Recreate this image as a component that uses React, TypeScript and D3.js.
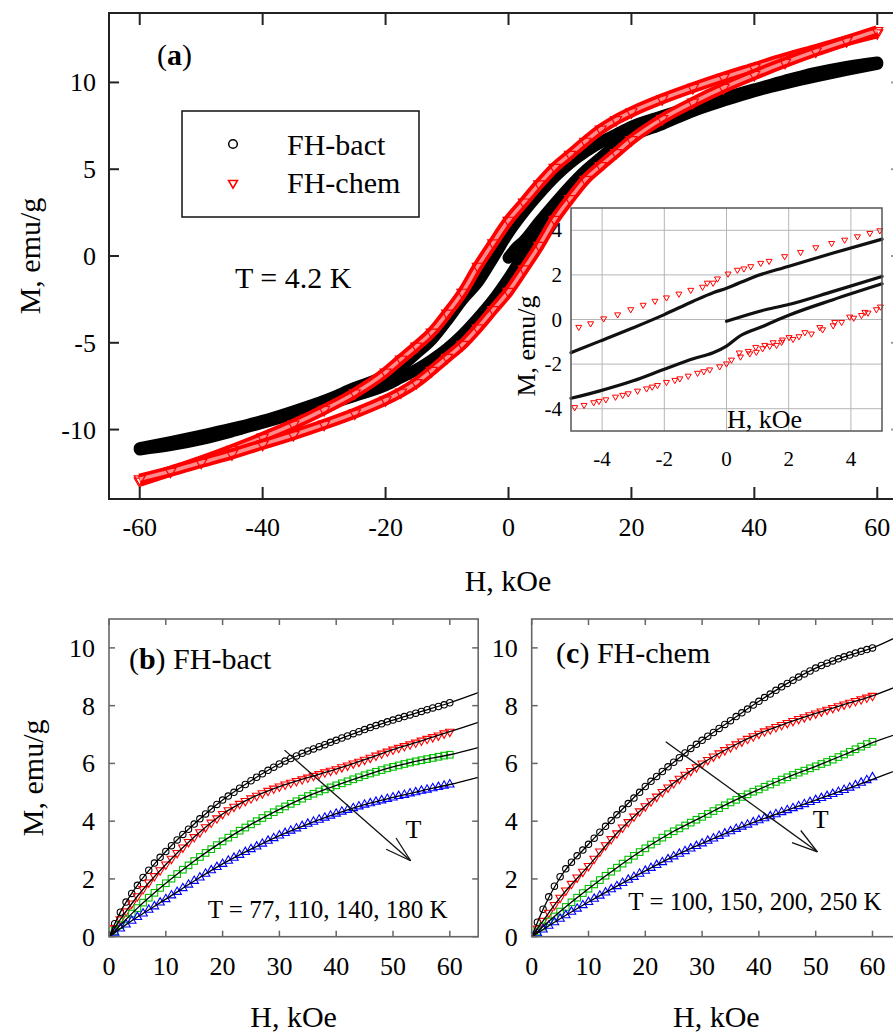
import React from "react";
import * as d3 from "d3";

const SERIF = '"Liberation Serif", "Times New Roman", Times, serif';

// ---------- panel (a): M(H) loops at 4.2 K ----------
const loopField = [-60, -55, -50, -45, -40, -35, -30, -25, -20, -17.5, -15, -12.5, -10, -7.5, -5, -2.5, 0, 2.5, 5, 7.5, 10, 12.5, 15, 17.5, 20, 25, 30, 35, 40, 45, 50, 55, 60];
const bactDown = [-11.07, -10.72, -10.35, -9.95, -9.5, -8.95, -8.35, -7.6, -6.9, -6.35, -5.6, -4.8, -3.7, -2.5, -1.5, -0.1, 1.35, 2.55, 3.6, 4.55, 5.35, 6.0, 6.55, 7.0, 7.45, 8.05, 8.6, 9.1, 9.6, 10.1, 10.55, 10.9, 11.15];
const bactUp = [-11.15, -10.9, -10.55, -10.1, -9.6, -9.1, -8.6, -8.05, -7.45, -7.0, -6.55, -6.0, -5.35, -4.55, -3.6, -2.55, -1.3, 0.1, 1.5, 2.5, 3.7, 4.8, 5.6, 6.35, 6.9, 7.6, 8.35, 8.95, 9.5, 9.95, 10.35, 10.72, 11.07];
const virginField = [0, 1.25, 2.5, 5, 7.5, 10, 12.5, 15, 17.5, 20];
const bactVirgin = [-0.1, 0.45, 0.85, 1.95, 3.0, 4.0, 4.9, 5.65, 6.4, 6.95];
const chemDown = [-12.98, -12.4, -11.8, -11.15, -10.45, -9.7, -8.85, -7.9, -6.7, -5.95, -5.2, -4.4, -3.3, -2.1, -0.6, 0.75, 2.05, 3.1, 4.15, 5.1, 5.85, 6.6, 7.3, 7.85, 8.3, 9.05, 9.7, 10.3, 10.85, 11.4, 11.9, 12.4, 12.85];
const chemUp = [-12.85, -12.4, -11.9, -11.4, -10.85, -10.3, -9.7, -9.05, -8.3, -7.85, -7.3, -6.6, -5.85, -5.1, -4.15, -3.1, -2.05, -0.75, 0.6, 2.1, 3.3, 4.4, 5.2, 5.95, 6.7, 7.9, 8.85, 9.7, 10.45, 11.15, 11.8, 12.4, 12.98];

const mainXTicks = [-60, -40, -20, 0, 20, 40, 60];
const mainYTicks = [-10, -5, 0, 5, 10];

// ---------- inset: low-field part ----------
const insetBactDown = [[-5, -1.49], [-4.07, -0.97], [-3.0, -0.37], [-2.0, 0.22], [-1.07, 0.82], [-0.43, 1.2], [0, 1.4], [0.86, 1.9], [1.98, 2.38], [3.43, 2.98], [5, 3.6]];
const insetBactUp = [[-5, -3.53], [-4.07, -3.2], [-3.0, -2.75], [-2.0, -2.23], [-1.07, -1.76], [-0.43, -1.49], [0, -1.19], [0.43, -0.74], [1.18, -0.3], [2.0, 0.19], [3.43, 0.89], [5, 1.6]];
const insetBactVirgin = [[0, -0.08], [1.28, 0.45], [2.0, 0.67], [3.43, 1.26], [5, 1.93]];
const insetChemField1 = [-4.75, -4.37, -3.95, -3.5, -3.08, -2.68, -2.3, -1.93, -1.53, -1.15, -0.77, -0.62, -0.43, -0.29, 0.05, 0.35, 0.56, 0.78, 1.1, 1.37, 1.87, 2.38, 2.87, 3.38, 3.8, 4.21, 4.61, 4.93];
const insetChemDown = [-0.34, -0.18, 0.04, 0.22, 0.45, 0.65, 0.83, 0.98, 1.15, 1.32, 1.46, 1.64, 1.64, 1.83, 2.05, 2.22, 2.28, 2.38, 2.53, 2.62, 2.83, 3.02, 3.23, 3.42, 3.57, 3.72, 3.87, 3.99];
const insetChemField2 = [-4.88, -4.58, -4.27, -4.1, -3.88, -3.57, -3.34, -3.16, -2.86, -2.57, -2.39, -2.22, -1.93, -1.66, -1.5, -1.23, -0.93, -0.73, -0.54, -0.22, 0, 0.16, 0.41, 0.45, 0.7, 0.75, 0.94, 0.96, 1.16, 1.23, 1.39, 1.5, 1.61, 1.77, 1.8, 2.01, 2.14, 2.33, 2.52, 2.73, 3.0, 3.09, 3.43, 3.48, 3.7, 3.96, 4.09, 4.34, 4.45, 4.55, 4.82, 4.95];
const insetChemUp = [-3.94, -3.84, -3.72, -3.66, -3.59, -3.47, -3.39, -3.32, -3.2, -3.1, -3.02, -2.95, -2.81, -2.72, -2.65, -2.53, -2.4, -2.33, -2.25, -2.11, -1.98, -1.81, -1.49, -1.67, -1.42, -1.53, -1.24, -1.46, -1.3, -1.15, -1.19, -1.03, -1.15, -1.01, -0.91, -0.8, -0.88, -0.76, -0.58, -0.64, -0.35, -0.45, -0.27, -0.12, -0.12, 0.12, 0.07, 0.19, 0.33, 0.3, 0.45, 0.57];
const insetTicks = [-4, -2, 0, 2, 4];

// ---------- panels (b), (c): virgin curves at higher T ----------
const fieldGrid = [0, 1, 2, 3, 4, 5, 6, 7, 8, 9, 10, 11, 12, 13, 14, 15, 16, 17, 18, 19, 20, 21, 22, 23, 24, 25, 26, 27, 28, 29, 30, 31, 32, 33, 34, 35, 36, 37, 38, 39, 40, 41, 42, 43, 44, 45, 46, 47, 48, 49, 50, 51, 52, 53, 54, 55, 56, 57, 58, 59, 60];
const bact77 = [0, 0.45, 0.85, 1.2, 1.5, 1.78, 2.05, 2.3, 2.55, 2.75, 2.95, 3.15, 3.35, 3.54, 3.72, 3.9, 4.08, 4.25, 4.42, 4.58, 4.73, 4.87, 5.0, 5.14, 5.27, 5.4, 5.52, 5.64, 5.76, 5.87, 5.98, 6.08, 6.17, 6.26, 6.35, 6.43, 6.5, 6.58, 6.65, 6.73, 6.8, 6.88, 6.95, 7.03, 7.1, 7.17, 7.24, 7.31, 7.37, 7.44, 7.5, 7.56, 7.62, 7.68, 7.74, 7.8, 7.86, 7.92, 7.97, 8.03, 8.1];
const bact110 = [0, 0.3, 0.6, 0.88, 1.15, 1.4, 1.65, 1.88, 2.1, 2.3, 2.5, 2.7, 2.9, 3.09, 3.28, 3.45, 3.62, 3.79, 3.95, 4.1, 4.25, 4.38, 4.5, 4.6, 4.7, 4.79, 4.88, 4.97, 5.05, 5.13, 5.2, 5.27, 5.33, 5.39, 5.45, 5.51, 5.57, 5.63, 5.69, 5.75, 5.8, 5.87, 5.93, 6.0, 6.06, 6.13, 6.2, 6.27, 6.34, 6.41, 6.48, 6.54, 6.6, 6.66, 6.72, 6.79, 6.85, 6.91, 6.97, 7.04, 7.1];
const bact140 = [0, 0.2, 0.4, 0.6, 0.8, 0.99, 1.18, 1.35, 1.52, 1.69, 1.85, 2.01, 2.17, 2.32, 2.47, 2.62, 2.76, 2.9, 3.03, 3.17, 3.3, 3.43, 3.55, 3.67, 3.78, 3.89, 4.0, 4.11, 4.21, 4.31, 4.41, 4.51, 4.6, 4.69, 4.78, 4.87, 4.95, 5.03, 5.1, 5.17, 5.24, 5.31, 5.38, 5.45, 5.52, 5.59, 5.65, 5.71, 5.77, 5.83, 5.88, 5.93, 5.98, 6.03, 6.07, 6.11, 6.15, 6.19, 6.23, 6.27, 6.3];
const bact180 = [0, 0.14, 0.28, 0.42, 0.55, 0.68, 0.8, 0.93, 1.05, 1.18, 1.3, 1.43, 1.55, 1.68, 1.8, 1.93, 2.05, 2.18, 2.3, 2.41, 2.52, 2.63, 2.73, 2.83, 2.93, 3.03, 3.12, 3.22, 3.32, 3.41, 3.5, 3.59, 3.67, 3.75, 3.83, 3.91, 3.98, 4.05, 4.12, 4.19, 4.26, 4.33, 4.39, 4.45, 4.51, 4.57, 4.62, 4.67, 4.72, 4.77, 4.82, 4.87, 4.91, 4.96, 5.0, 5.05, 5.09, 5.14, 5.18, 5.23, 5.27];
const chem100 = [0, 0.5, 0.95, 1.38, 1.75, 2.08, 2.35, 2.58, 2.8, 3.0, 3.2, 3.41, 3.62, 3.82, 4.02, 4.22, 4.42, 4.61, 4.8, 5.0, 5.2, 5.38, 5.55, 5.72, 5.88, 6.04, 6.2, 6.36, 6.52, 6.66, 6.8, 6.94, 7.07, 7.21, 7.35, 7.48, 7.62, 7.75, 7.88, 8.02, 8.15, 8.28, 8.4, 8.53, 8.65, 8.77, 8.88, 8.99, 9.1, 9.2, 9.3, 9.39, 9.47, 9.55, 9.62, 9.69, 9.75, 9.82, 9.88, 9.94, 10.0];
const chem150 = [0, 0.28, 0.55, 0.83, 1.1, 1.35, 1.6, 1.83, 2.05, 2.25, 2.45, 2.7, 2.95, 3.17, 3.38, 3.58, 3.78, 3.97, 4.16, 4.34, 4.52, 4.69, 4.85, 5.01, 5.17, 5.32, 5.47, 5.61, 5.74, 5.87, 6.0, 6.12, 6.24, 6.35, 6.46, 6.56, 6.66, 6.76, 6.85, 6.94, 7.03, 7.11, 7.18, 7.26, 7.33, 7.4, 7.47, 7.54, 7.6, 7.67, 7.73, 7.8, 7.86, 7.92, 7.98, 8.04, 8.1, 8.16, 8.22, 8.28, 8.34];
const chem200 = [0, 0.18, 0.35, 0.53, 0.7, 0.87, 1.03, 1.19, 1.35, 1.51, 1.66, 1.81, 1.96, 2.11, 2.25, 2.39, 2.53, 2.67, 2.8, 2.93, 3.06, 3.19, 3.31, 3.43, 3.55, 3.65, 3.75, 3.85, 3.95, 4.05, 4.15, 4.25, 4.35, 4.45, 4.55, 4.65, 4.74, 4.84, 4.93, 5.02, 5.1, 5.19, 5.27, 5.36, 5.44, 5.52, 5.6, 5.68, 5.75, 5.83, 5.9, 5.98, 6.05, 6.13, 6.22, 6.31, 6.4, 6.49, 6.58, 6.67, 6.75];
const chem250 = [0, 0.12, 0.25, 0.38, 0.5, 0.62, 0.74, 0.86, 0.97, 1.09, 1.2, 1.31, 1.42, 1.53, 1.64, 1.75, 1.86, 1.97, 2.07, 2.18, 2.28, 2.38, 2.48, 2.58, 2.68, 2.78, 2.87, 2.96, 3.05, 3.14, 3.23, 3.32, 3.4, 3.49, 3.57, 3.65, 3.73, 3.81, 3.88, 3.96, 4.03, 4.1, 4.17, 4.24, 4.31, 4.38, 4.45, 4.52, 4.59, 4.66, 4.73, 4.8, 4.87, 4.94, 5.01, 5.08, 5.16, 5.24, 5.33, 5.42, 5.52];

// fitted curves (solid black lines)
const fitField = [0, 2, 5, 10, 15, 20, 25, 30, 35, 40, 45, 50, 55, 60, 65];
const fitBact77 = [0, 0.85, 1.78, 2.95, 3.9, 4.73, 5.4, 5.98, 6.42, 6.8, 7.17, 7.5, 7.8, 8.1, 8.45];
const fitBact110 = [0, 0.6, 1.4, 2.5, 3.45, 4.25, 4.8, 5.2, 5.51, 5.8, 6.13, 6.48, 6.78, 7.1, 7.42];
const fitBact140 = [0, 0.4, 0.99, 1.85, 2.62, 3.3, 3.89, 4.41, 4.87, 5.24, 5.58, 5.88, 6.11, 6.3, 6.55];
const fitBact180 = [0, 0.28, 0.68, 1.3, 1.93, 2.52, 3.03, 3.5, 3.9, 4.26, 4.57, 4.82, 5.05, 5.27, 5.52];
const fitChem100 = [0, 0.95, 2.05, 3.2, 4.22, 5.2, 6.04, 6.8, 7.48, 8.15, 8.77, 9.3, 9.69, 10.0, 10.45];
const fitChem150 = [0, 0.55, 1.35, 2.45, 3.58, 4.52, 5.32, 6.0, 6.56, 7.03, 7.4, 7.73, 8.04, 8.34, 8.72];
const fitChem200 = [0, 0.35, 0.87, 1.66, 2.39, 3.06, 3.65, 4.15, 4.65, 5.1, 5.52, 5.9, 6.3, 6.72, 7.06];
const fitChem250 = [0, 0.25, 0.62, 1.2, 1.75, 2.28, 2.78, 3.23, 3.65, 4.03, 4.38, 4.73, 5.08, 5.45, 5.82];

const lowXTicks = [0, 10, 20, 30, 40, 50, 60];
const lowYTicks = [0, 2, 4, 6, 8, 10];

// arrow "T" (start, tip) in data units
const arrowB = [[30.9, 6.46], [53.1, 2.63]];
const arrowC = [[23.6, 6.75], [50.3, 2.94]];

const zip = (xs: number[], ys: number[]) => xs.map((x, i) => [x, ys[i]] as [number, number]);

function tri(x: number, y: number, s: number, down: boolean) {
  const h = (s * Math.sqrt(3)) / 2;
  if (down) return `M${x - s / 2},${y - h / 3}L${x + s / 2},${y - h / 3}L${x},${y + (2 * h) / 3}Z`;
  return `M${x - s / 2},${y + h / 3}L${x + s / 2},${y + h / 3}L${x},${y - (2 * h) / 3}Z`;
}

function Marker({ kind, x, y, color }: { kind: string; x: number; y: number; color: string }) {
  if (kind === "circle") return <circle cx={x} cy={y} r={3.2} fill="none" stroke={color} strokeWidth={1.1} />;
  if (kind === "square") return <rect x={x - 3.3} y={y - 3.3} width={6.6} height={6.6} fill="none" stroke={color} strokeWidth={1.1} />;
  return <path d={tri(x, y, 8.5, kind === "down")} fill="none" stroke={color} strokeWidth={1.1} />;
}

function PanelA() {
  const x = d3.scaleLinear().domain([-65, 65]).range([109, 908]);
  const y = d3.scaleLinear().domain([-14, 14]).range([499, 13]);
  const line = d3
    .line<[number, number]>()
    .x((d) => x(d[0]))
    .y((d) => y(d[1]))
    .curve(d3.curveMonotoneX);
  const bactPaths = [zip(loopField, bactDown), zip(loopField, bactUp), zip(virginField, bactVirgin)];
  const chemPaths = [zip(loopField, chemDown), zip(loopField, chemUp)];
  const [x0, x1] = x.range();
  const [y0, y1] = [y(14), y(-14)];
  return (
    <g>
      <defs>
        <clipPath id="clipA">
          <rect x={x0} y={y0} width={x1 - x0} height={y1 - y0} />
        </clipPath>
      </defs>
      <g clipPath="url(#clipA)">
        {bactPaths.map((p, i) => (
          <path key={"b" + i} d={line(p) || ""} fill="none" stroke="#000" strokeWidth={12} strokeLinecap="round" strokeLinejoin="round" />
        ))}
        {chemPaths.map((p, i) => (
          <g key={"c" + i}>
            <path d={line(p) || ""} fill="none" stroke="#f00" strokeWidth={11} strokeLinejoin="round" />
            <path d={line(p) || ""} fill="none" stroke="#fff" strokeWidth={3.5} strokeLinejoin="round" strokeOpacity={0.55} />
            {p.map((d, j) => (
              <path key={j} d={tri(x(d[0]), y(d[1]), 11, true)} fill="none" stroke="#f00" strokeWidth={1.2} />
            ))}
          </g>
        ))}
      </g>
      <rect x={x0} y={y0} width={x1 - x0} height={y1 - y0} fill="none" stroke="#222" strokeWidth={2} />
      {mainXTicks.map((t) => (
        <g key={"x" + t}>
          <line x1={x(t)} x2={x(t)} y1={y1} y2={y1 - 12} stroke="#222" strokeWidth={2} />
          <line x1={x(t)} x2={x(t)} y1={y0} y2={y0 + 12} stroke="#222" strokeWidth={2} />
          <text x={x(t)} y={y1 + 37} textAnchor="middle" fontSize={26}>{t}</text>
        </g>
      ))}
      {mainYTicks.map((t) => (
        <g key={"y" + t}>
          <line x1={x0} x2={x0 + 10} y1={y(t)} y2={y(t)} stroke="#222" strokeWidth={2} />
          <line x1={x1} x2={x1 - 17} y1={y(t)} y2={y(t)} stroke="#999" strokeWidth={2} />
          <text x={x0 - 13} y={y(t) + 9} textAnchor="end" fontSize={26}>{t}</text>
        </g>
      ))}
      <text x={508} y={591} textAnchor="middle" fontSize={30}>H, kOe</text>
      <text transform="translate(40,256) rotate(-90)" textAnchor="middle" fontSize={30}>M, emu/g</text>
      <text x={157} y={65} fontSize={30}>
        (<tspan fontWeight="bold">a</tspan>)
      </text>
      <text x={235} y={288} fontSize={30}>T = 4.2 K</text>
      <rect x={182} y={111} width={237} height={106} fill="#fff" stroke="#111" strokeWidth={1.5} />
      <circle cx={233} cy={144} r={4.3} fill="none" stroke="#000" strokeWidth={1.5} />
      <path d={tri(233, 183, 9, true)} fill="none" stroke="#f00" strokeWidth={1.5} />
      <text x={287} y={155} fontSize={30}>FH-bact</text>
      <text x={287} y={193} fontSize={30}>FH-chem</text>
    </g>
  );
}

function Inset() {
  const x = d3.scaleLinear().domain([-5, 5]).range([571, 882]);
  const y = d3.scaleLinear().domain([-5, 5]).range([431, 208]);
  const line = d3
    .line<number[]>()
    .x((d) => x(d[0]))
    .y((d) => y(d[1]))
    .curve(d3.curveMonotoneX);
  const chem = [...zip(insetChemField1, insetChemDown), ...zip(insetChemField2, insetChemUp)];
  return (
    <g>
      <rect x={571} y={208} width={311} height={223} fill="#fff" />
      {insetTicks.map((t) => (
        <g key={t}>
          <line x1={x(t)} x2={x(t)} y1={208} y2={431} stroke="#b5b5b5" strokeWidth={1} />
          <line x1={571} x2={882} y1={y(t)} y2={y(t)} stroke="#b5b5b5" strokeWidth={1} />
          <text x={x(t)} y={466} textAnchor="middle" fontSize={21}>{t}</text>
          <text x={562} y={y(t) + 7} textAnchor="end" fontSize={21}>{t}</text>
        </g>
      ))}
      {[insetBactDown, insetBactUp, insetBactVirgin].map((p, i) => (
        <path key={i} d={line(p) || ""} fill="none" stroke="#111" strokeWidth={3.2} strokeLinecap="round" />
      ))}
      {chem.map((d, i) => (
        <path key={i} d={tri(x(d[0]), y(d[1]), 6, true)} fill="none" stroke="#f00" strokeWidth={1} />
      ))}
      <rect x={571} y={208} width={311} height={223} fill="none" stroke="#555" strokeWidth={1.5} />
      <text x={727} y={428} fontSize={26}>H, kOe</text>
      <text transform="translate(535,346) rotate(-90)" textAnchor="middle" fontSize={26}>M, emu/g</text>
    </g>
  );
}

type Series = { values: number[]; fit: number[]; color: string; kind: string };

function LowPanel(props: {
  left: number;
  id: string;
  letter: string;
  sample: string;
  series: Series[];
  temps: string;
  tempAt: [number, number];
  arrow: number[][];
  tAt: [number, number];
  titleAt: [number, number];
  yLabel: boolean;
}) {
  const x = d3.scaleLinear().domain([0, 65]).range([props.left, props.left + 369.2]);
  const y = d3.scaleLinear().domain([0, 11]).range([936.7, 619]);
  const line = d3
    .line<[number, number]>()
    .x((d) => x(d[0]))
    .y((d) => y(d[1]))
    .curve(d3.curveMonotoneX);
  const [x0, x1] = x.range();
  const y0 = y(11);
  const y1 = y(0);
  const [a, b] = props.arrow;
  const ax0 = x(a[0]);
  const ay0 = y(a[1]);
  const ax1 = x(b[0]);
  const ay1 = y(b[1]);
  const ang = Math.atan2(ay0 - ay1, ax0 - ax1);
  const wing = (s: number) => [ax1 + 27 * Math.cos(ang + s), ay1 + 27 * Math.sin(ang + s)];
  const w1 = wing(0.28);
  const w2 = wing(-0.28);
  return (
    <g>
      <defs>
        <clipPath id={props.id}>
          <rect x={x0} y={y0} width={x1 - x0} height={y1 - y0} />
        </clipPath>
      </defs>
      <g clipPath={`url(#${props.id})`}>
        {props.series.map((s, i) => (
          <g key={i}>
            {zip(fieldGrid, s.values).map((d, j) => (
              <Marker key={j} kind={s.kind} x={x(d[0])} y={y(d[1])} color={s.color} />
            ))}
          </g>
        ))}
        {props.series.map((s, i) => (
          <path key={"f" + i} d={line(zip(fitField, s.fit)) || ""} fill="none" stroke="#000" strokeWidth={1.3} />
        ))}
      </g>
      <rect x={x0} y={y0} width={x1 - x0} height={y1 - y0} fill="none" stroke="#666" strokeWidth={1.6} />
      {lowXTicks.map((t) => (
        <g key={"x" + t}>
          <line x1={x(t)} x2={x(t)} y1={y1} y2={y1 - 6} stroke="#666" strokeWidth={1.5} />
          <line x1={x(t)} x2={x(t)} y1={y0} y2={y0 + 6} stroke="#666" strokeWidth={1.5} />
          <text x={x(t)} y={975} textAnchor="middle" fontSize={26}>{t}</text>
        </g>
      ))}
      {lowYTicks.map((t) => (
        <g key={"y" + t}>
          <line x1={x0} x2={x0 + 6} y1={y(t)} y2={y(t)} stroke="#666" strokeWidth={1.5} />
          <line x1={x1} x2={x1 - 6} y1={y(t)} y2={y(t)} stroke="#666" strokeWidth={1.5} />
          <text x={x0 - 14} y={y(t) + 9} textAnchor="end" fontSize={26}>{t}</text>
        </g>
      ))}
      <line x1={ax0} y1={ay0} x2={ax1} y2={ay1} stroke="#111" strokeWidth={1.3} />
      <line x1={ax1} y1={ay1} x2={w1[0]} y2={w1[1]} stroke="#111" strokeWidth={1.3} />
      <line x1={ax1} y1={ay1} x2={w2[0]} y2={w2[1]} stroke="#111" strokeWidth={1.3} />
      <text x={x(props.tAt[0])} y={y(props.tAt[1])} textAnchor="middle" fontSize={26}>T</text>
      <text x={x(props.tempAt[0])} y={y(props.tempAt[1])} textAnchor="end" fontSize={25}>{props.temps}</text>
      <text x={x(props.titleAt[0])} y={y(props.titleAt[1])} fontSize={30}>
        (<tspan fontWeight="bold">{props.letter}</tspan>) {props.sample}
      </text>
      <text x={(x0 + x1) / 2} y={1027} textAnchor="middle" fontSize={30}>H, kOe</text>
      {props.yLabel && (
        <text transform={`translate(43,${(y0 + y1) / 2}) rotate(-90)`} textAnchor="middle" fontSize={30}>M, emu/g</text>
      )}
    </g>
  );
}

const RED = "#ff0000";
const GREEN = "#00c000";
const BLUE = "#0000ff";

export default function App() {
  const bSeries: Series[] = [
    { values: bact77, fit: fitBact77, color: "#000", kind: "circle" },
    { values: bact110, fit: fitBact110, color: RED, kind: "down" },
    { values: bact140, fit: fitBact140, color: GREEN, kind: "square" },
    { values: bact180, fit: fitBact180, color: BLUE, kind: "up" },
  ];
  const cSeries: Series[] = [
    { values: chem100, fit: fitChem100, color: "#000", kind: "circle" },
    { values: chem150, fit: fitChem150, color: RED, kind: "down" },
    { values: chem200, fit: fitChem200, color: GREEN, kind: "square" },
    { values: chem250, fit: fitChem250, color: BLUE, kind: "up" },
  ];
  return (
    <div style={{ position: "absolute", left: 0, top: 0 }}>
      <svg width={893} height={1033} viewBox="0 0 893 1033" style={{ display: "block", fontFamily: SERIF, background: "#fff" }}>
        <rect width={893} height={1033} fill="#fff" />
        <PanelA />
        <Inset />
        <LowPanel
          left={109}
          id="clipB"
          letter="b"
          sample="FH-bact"
          series={bSeries}
          temps="T = 77, 110, 140, 180 K"
          tempAt={[59.6, 0.66]}
          arrow={arrowB}
          tAt={[53.6, 3.42]}
          titleAt={[3.5, 9.26]}
          yLabel={true}
        />
        <LowPanel
          left={531.7}
          id="clipC"
          letter="c"
          sample="FH-chem"
          series={cSeries}
          temps="T = 100, 150, 200, 250 K"
          tempAt={[61.6, 0.92]}
          arrow={arrowC}
          tAt={[50.9, 3.76]}
          titleAt={[4.3, 9.47]}
          yLabel={false}
        />
      </svg>
    </div>
  );
}
